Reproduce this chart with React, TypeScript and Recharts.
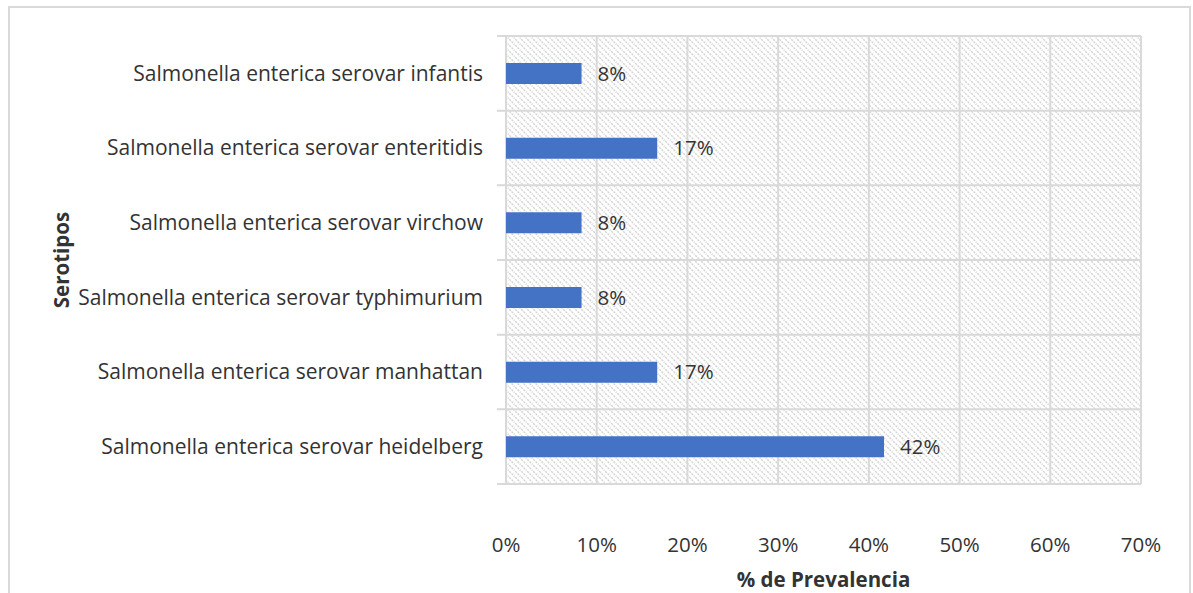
import React from "react";
import { BarChart, Bar, XAxis, YAxis, CartesianGrid, LabelList, Label } from "recharts";

const serotypes = [
  "Salmonella enterica serovar infantis",
  "Salmonella enterica serovar enteritidis",
  "Salmonella enterica serovar virchow",
  "Salmonella enterica serovar typhimurium",
  "Salmonella enterica serovar manhattan",
  "Salmonella enterica serovar heidelberg",
];
const prevalence = [8.33, 16.67, 8.33, 8.33, 16.67, 41.67];
const xTicks = [0, 10, 20, 30, 40, 50, 60, 70];

const data = serotypes.map((name, i) => ({ name, value: prevalence[i] }));

const FONT = "'Open Sans', sans-serif";
const TEXT = "#333333";
const GRID = "#d9d9d9";

// horizontal lines at the category boundaries, reaching a little past the axis
const boundaryLines = ({ offset }: any) => {
  const n = serotypes.length;
  const out: number[] = [];
  for (let i = 0; i <= n; i++) out.push(offset.top + (i * offset.height) / n);
  return out;
};

const HLine = (p: any) => (
  <line
    key={p.key}
    x1={p.x1 - 9}
    x2={p.x2}
    y1={p.y1}
    y2={p.y2}
    stroke={GRID}
    strokeWidth={2}
  />
);

export default function App() {
  return (
    <div
      style={{
        position: "fixed",
        left: 8,
        top: 6,
        width: 1183,
        height: 587,
        borderTop: `2px solid ${GRID}`,
        borderLeft: `2px solid ${GRID}`,
        borderRight: `2px solid ${GRID}`,
        boxSizing: "border-box",
        background: "#ffffff",
        fontFamily: FONT,
      }}
    >
      <BarChart
        width={1179}
        height={585}
        data={data}
        layout="vertical"
        margin={{ top: 28, right: 48, bottom: 4, left: 40 }}
      >
        <defs>
          {/* dashed downward-diagonal fill for the plot area */}
          <pattern id="hatch" patternUnits="userSpaceOnUse" width="6" height="6">
            <rect width="6" height="6" fill="#ffffff" />
            <path
              d="M-1,-1 L7,7 M-1,5 L1,7 M5,-1 L7,1"
              stroke="#d3d3d3"
              strokeWidth="1.4"
              strokeDasharray="2.2 1"
            />
          </pattern>
        </defs>
        <CartesianGrid
          fill="url(#hatch)"
          stroke={GRID}
          strokeWidth={2}
          horizontalCoordinatesGenerator={boundaryLines}
          horizontal={HLine}
        />
        <XAxis
          type="number"
          domain={[0, 70]}
          ticks={xTicks}
          tickFormatter={(v: number) => `${v}%`}
          axisLine={false}
          tickLine={false}
          tickSize={0}
          tickMargin={53}
          height={105}
          tick={{ fill: TEXT, fontSize: 20.5, fontFamily: FONT }}
        >
          <Label
            value="% de Prevalencia"
            position="insideBottom"
            offset={2}
            style={{ fill: TEXT, fontSize: 20.5, fontWeight: 700, fontFamily: FONT }}
          />
        </XAxis>
        <YAxis
          type="category"
          dataKey="name"
          width={456}
          axisLine={false}
          tickLine={false}
          tickSize={0}
          tickMargin={23}
          interval={0}
          tick={{ fill: TEXT, fontSize: 21, fontFamily: FONT }}
        >
          <Label
            value="Serotipos"
            angle={-90}
            position="insideLeft"
            offset={12}
            style={{ fill: TEXT, fontSize: 20.5, fontWeight: 700, fontFamily: FONT, textAnchor: "middle" }}
          />
        </YAxis>
        <Bar dataKey="value" fill="#4472c4" barSize={21} isAnimationActive={false}>
          <LabelList
            dataKey="value"
            position="right"
            offset={16}
            formatter={(v: any) => `${Math.round(Number(v))}%`}
            style={{ fill: TEXT, fontSize: 20.5, fontFamily: FONT }}
          />
        </Bar>
      </BarChart>
    </div>
  );
}
